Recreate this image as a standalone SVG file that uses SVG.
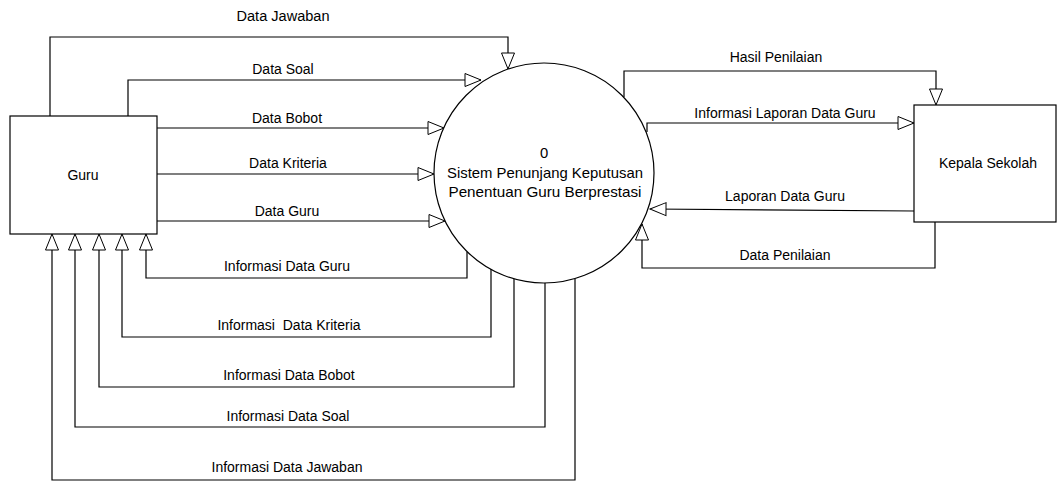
<svg xmlns="http://www.w3.org/2000/svg" width="1059" height="482" viewBox="0 0 1059 482">
<style>
text{font-family:"Liberation Sans",Arial,sans-serif;font-size:14px;fill:#000;text-anchor:middle;white-space:pre}
.big{font-size:14.8px}
.box{fill:#fff;stroke:#000;stroke-width:1.2}
.flow{fill:none;stroke:#000;stroke-width:1.2;marker-end:url(#arr)}
</style>
<defs>
<marker id="arr" markerUnits="userSpaceOnUse" markerWidth="18" markerHeight="15" refX="16.5" refY="7" orient="auto" overflow="visible">
<path d="M0.5,0.5 L16.5,7 L0.5,13.5 Z" fill="#fff" stroke="#000" stroke-width="1"/>
</marker>
</defs>
<rect width="1059" height="482" fill="#fff"/>
<g id="guru">
<rect class="box" x="10" y="116" width="147" height="118"/>
<text x="83" y="180">Guru</text>
</g>
<g id="proses0">
<circle class="box" cx="544" cy="173" r="110"/>
<text class="big" x="544" y="158">0</text>
<text class="big" x="545" y="178" textLength="196" lengthAdjust="spacingAndGlyphs">Sistem Penunjang Keputusan</text>
<text class="big" x="545" y="197" textLength="193" lengthAdjust="spacingAndGlyphs">Penentuan Guru Berprestasi</text>
</g>
<g id="kepala">
<rect class="box" x="914" y="105" width="142" height="117"/>
<text x="988" y="168">Kepala Sekolah</text>
</g>
<g id="connectors">
<path class="flow" d="M50,116 V37 H508 V69"/>
<path class="flow" d="M128,116 V80 H481"/>
<path class="flow" d="M157,128 H444"/>
<path class="flow" d="M157,174 H434"/>
<path class="flow" d="M157,221 H445"/>
<path class="flow" d="M467,252 V278 H146 V234"/>
<path class="flow" d="M491,269 V337 H122 V234"/>
<path class="flow" d="M514,279 V387 H99 V234"/>
<path class="flow" d="M545,283 V427 H75 V234"/>
<path class="flow" d="M575,279 V480 H52 V234"/>
<path class="flow" d="M624,97 V71 H936 V105"/>
<path class="flow" d="M647,132 V123 H914"/>
<path class="flow" d="M914,211 L650,209"/>
<path class="flow" d="M935,222 V268 H642 V224"/>
</g>
<g id="labels">
<text x="283" y="21" textLength="93" lengthAdjust="spacingAndGlyphs">Data Jawaban</text>
<text x="283" y="74">Data Soal</text>
<text x="287" y="123">Data Bobot</text>
<text x="288" y="168">Data Kriteria</text>
<text x="287" y="216">Data Guru</text>
<text x="287" y="271">Informasi Data Guru</text>
<text x="289" y="330">Informasi  Data Kriteria</text>
<text x="289" y="380">Informasi Data Bobot</text>
<text x="288" y="421">Informasi Data Soal</text>
<text x="287" y="472">Informasi Data Jawaban</text>
<text x="776" y="62">Hasil Penilaian</text>
<text x="785" y="118">Informasi Laporan Data Guru</text>
<text x="785" y="201">Laporan Data Guru</text>
<text x="785" y="260">Data Penilaian</text>
</g>
</svg>
